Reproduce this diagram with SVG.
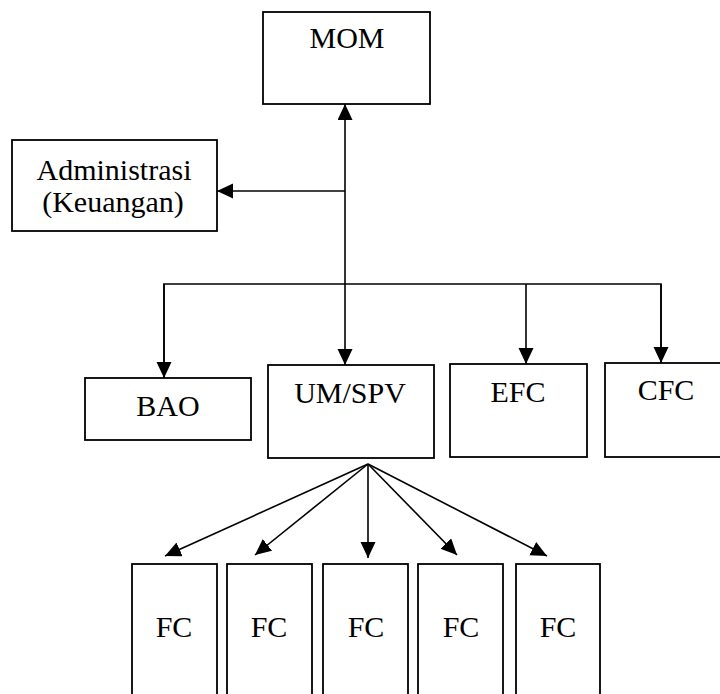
<svg xmlns="http://www.w3.org/2000/svg" width="720" height="694" viewBox="0 0 720 694">
<defs>
<marker id="ah" markerUnits="userSpaceOnUse" markerWidth="17" markerHeight="16" refX="16" refY="7.5" orient="auto-start-reverse">
<path d="M0,0 L16,7.5 L0,15 z" fill="#000"/>
</marker>
<style>
.box{fill:#fff;stroke:#000;stroke-width:1.8}
.t{font-family:"Liberation Serif","Times New Roman",serif;font-size:30px;fill:#000;text-anchor:middle}
.c{fill:none;stroke:#000;stroke-width:1.6}
.a{fill:none;stroke:#000;stroke-width:1.6;marker-end:url(#ah)}
</style>
</defs>
<rect width="720" height="694" fill="#fff"/>
<g id="connectors">
<line class="c" x1="345" y1="104" x2="345" y2="365" marker-start="url(#ah)" marker-end="url(#ah)"/>
<line class="a" x1="345" y1="191" x2="217" y2="191"/>
<polyline class="c" points="164,378 164,284 661,284 661,363"/>
<line class="a" x1="164" y1="284" x2="164" y2="378"/>
<line class="a" x1="526" y1="284" x2="526" y2="364"/>
<line class="a" x1="661" y1="284" x2="661" y2="363"/>
<line class="a" x1="368" y1="464" x2="165" y2="556"/>
<line class="a" x1="368" y1="464" x2="255" y2="555"/>
<line class="a" x1="368" y1="464" x2="368" y2="558"/>
<line class="a" x1="368" y1="464" x2="457" y2="555"/>
<line class="a" x1="368" y1="464" x2="547" y2="556"/>
</g>
<g id="mom"><rect class="box" x="263" y="12" width="167" height="92"/><text class="t" x="347" y="48">MOM</text></g>
<g id="admin"><rect class="box" x="12" y="140" width="205" height="91"/><text class="t" x="114" y="180">Administrasi</text><text class="t" x="113" y="212">(Keuangan)</text></g>
<g id="bao"><rect class="box" x="85" y="378" width="166" height="62"/><text class="t" x="168" y="416">BAO</text></g>
<g id="umspv"><rect class="box" x="268" y="365" width="166" height="93"/><text class="t" x="350" y="403">UM/SPV</text></g>
<g id="efc"><rect class="box" x="450" y="364" width="137" height="93"/><text class="t" x="518" y="402">EFC</text></g>
<g id="cfc"><rect class="box" x="605" y="363" width="125" height="94"/><text class="t" x="666" y="400">CFC</text></g>
<g id="fc1"><rect class="box" x="132" y="564" width="85" height="140"/><text class="t" x="174" y="637">FC</text></g>
<g id="fc2"><rect class="box" x="227" y="564" width="85" height="140"/><text class="t" x="269" y="637">FC</text></g>
<g id="fc3"><rect class="box" x="323" y="564" width="85" height="140"/><text class="t" x="366" y="637">FC</text></g>
<g id="fc4"><rect class="box" x="418" y="564" width="85" height="140"/><text class="t" x="461" y="637">FC</text></g>
<g id="fc5"><rect class="box" x="516" y="564" width="84" height="140"/><text class="t" x="558" y="637">FC</text></g>
</svg>
